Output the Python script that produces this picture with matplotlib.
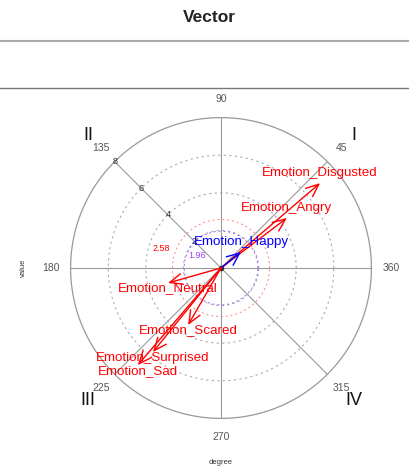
import numpy as np
import matplotlib.pyplot as plt
from matplotlib.lines import Line2D

plt.rcParams['font.family'] = ['Liberation Sans', 'DejaVu Sans']

# Vector data (direction in degrees, length in value units)
emotions = ['Emotion_Disgusted', 'Emotion_Angry', 'Emotion_Happy', 'Emotion_Neutral',
            'Emotion_Scared', 'Emotion_Surprised', 'Emotion_Sad']
degree = [40.6, 37.2, 38.7, 195.8, 240.0, 231.0, 229.4]
value = [6.94, 4.40, 1.36, 2.93, 3.50, 5.75, 6.80]
colors = ['red', 'red', 'blue', 'red', 'red', 'red', 'red']

# Grid / reference values
grid_rings = [2, 4, 6]
outer_ring = 8
ring_ticks = [2, 4, 6, 8]
angle_labels = [45, 90, 135, 180, 225, 270, 315, 360]
quadrants = ['I', 'II', 'III', 'IV']
quad_angles = [45, 135, 225, 315]
sig_levels = [2.58, 1.96]
sig_colors = ['#ff6060', '#8a3cf0']

W, H = 409, 476
fig = plt.figure(figsize=(W / 100, H / 100), dpi=100)

# header panel like the original page
fig.text(209 / W, 1 - 18 / H, 'Vector', ha='center', va='center', fontsize=12.5,
         fontweight='bold', color='#222222')
fig.add_artist(Line2D([0, 1], [1 - 41 / H, 1 - 41 / H], color='#aaaaaa', lw=1.5))
fig.add_artist(Line2D([0, 1], [1 - 88 / H, 1 - 88 / H], color='#777777', lw=1.0))

# axes: centre at (221, 268) px, 18.8 px per unit
scale = 18.8
half = 180
cx, cy = 221, 268
ax = fig.add_axes([(cx - half) / W, (H - cy - half) / H, 2 * half / W, 2 * half / H])
lim = half / scale
ax.set_xlim(-lim, lim)
ax.set_ylim(-lim, lim)
ax.set_aspect('equal')
ax.axis('off')

t = np.linspace(0, 2 * np.pi, 400)
ax.plot(outer_ring * np.cos(t), outer_ring * np.sin(t), color='#999999', lw=0.9)
for r in grid_rings:
    ax.plot(r * np.cos(t), r * np.sin(t), color='#b0a8b0', lw=0.8, ls=(0, (2, 3)))
for r, c in zip(sig_levels, sig_colors):
    ax.plot(r * np.cos(t), r * np.sin(t), color=c, lw=0.7, ls=(0, (2, 3)), alpha=0.8)

# axis lines
for a in [0, 45, 90, 135]:
    rad = np.deg2rad(a)
    ax.plot([-outer_ring * np.cos(rad), outer_ring * np.cos(rad)],
            [-outer_ring * np.sin(rad), outer_ring * np.sin(rad)], color='#999999', lw=0.8)

# ring tick labels along 135 degrees
for r in ring_ticks:
    rad = np.deg2rad(135)
    ax.text(r * np.cos(rad), r * np.sin(rad), str(r), ha='center', va='center',
            fontsize=6.5, color='#333333')

ax.text(-3.2, 1.06, '2.58', color='red', fontsize=6.5, ha='center', va='center')
ax.text(-1.28, 0.69, '1.96', color='#a040ff', fontsize=6.5, ha='center', va='center')

# angle labels
for a in angle_labels:
    rad = np.deg2rad(a)
    ax.text(9.05 * np.cos(rad), 9.0 * np.sin(rad), str(a), ha='center', va='center',
            fontsize=7.5, color='#555555', clip_on=False)

for q, a in zip(quadrants, quad_angles):
    rad = np.deg2rad(a)
    ax.text(10.0 * np.cos(rad), 10.0 * np.sin(rad), q, ha='center', va='center',
            fontsize=13, color='#111111', clip_on=False)

# vectors
for name, d, v, c in zip(emotions, degree, value, colors):
    rad = np.deg2rad(d)
    x, y = v * np.cos(rad), v * np.sin(rad)
    ax.annotate('', xy=(x, y), xytext=(0, 0),
                arrowprops=dict(arrowstyle='->,head_length=0.7,head_width=0.3',
                                color=c, lw=1.0, shrinkA=0, shrinkB=0, mutation_scale=13))
    dy = 7 if y > 0 else -4
    ax.annotate(name, xy=(x, y), xytext=(0, dy), textcoords='offset points',
                ha='center', va='center', fontsize=9.6, color=c)

ax.plot([0], [0], 'o', color='#333333', ms=3)

fig.text(23 / W, 1 - 268 / H, 'value', rotation=90, ha='center', va='center',
         fontsize=5.5, color='#333333')
fig.text(221 / W, 1 - 463 / H, 'degree', ha='center', va='center',
         fontsize=5.5, color='#333333')

fig.savefig('out.png', dpi=100)
